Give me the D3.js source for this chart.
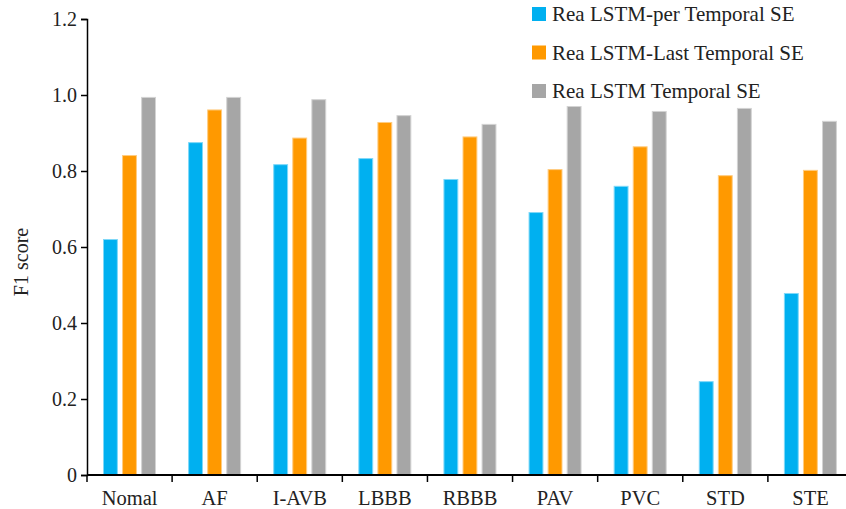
<!DOCTYPE html>
<html><head><meta charset="utf-8">
<script src="https://cdn.jsdelivr.net/npm/d3@7/dist/d3.min.js"></script>
<style>body{margin:0;background:#fff}svg{display:block}</style>
</head><body>
<script>
const categories = ["Nomal","AF","I-AVB","LBBB","RBBB","PAV","PVC","STD","STE"];
const seriesNames = ["Rea LSTM-per Temporal SE","Rea LSTM-Last Temporal SE","Rea LSTM Temporal SE"];
const perValues  = [0.621,0.876,0.818,0.834,0.779,0.692,0.761,0.247,0.479];
const lastValues = [0.842,0.962,0.888,0.929,0.891,0.805,0.865,0.789,0.803];
const fullValues = [0.995,0.995,0.989,0.947,0.924,0.971,0.958,0.966,0.932];
const yTicks = [0,0.2,0.4,0.6,0.8,1.0,1.2];
const colors = ["#00b0f0","#ff9900","#a6a6a6"];
const strokes = ["#7fd8f8","#ffcc80","#d3d3d3"];

const W=846,H=509;
const svg=d3.select("body").append("svg").attr("width",W).attr("height",H);
const font="'Liberation Serif','Times New Roman',serif";

const x=d3.scaleBand().domain(categories).range([87,853]);
const x1=d3.scaleBand().domain(seriesNames).range([16,69]).paddingInner(0.22);
const y=d3.scaleLinear().domain([0,1.2]).range([475,19]);

const data=categories.map((c,i)=>({cat:c,vals:[perValues[i],lastValues[i],fullValues[i]]}));

const g=svg.append("g");
data.forEach(d=>{
  d.vals.forEach((v,j)=>{
    g.append("rect")
      .attr("x",x(d.cat)+x1(seriesNames[j])+0.5)
      .attr("y",y(v)+0.5)
      .attr("width",x1.bandwidth()-1)
      .attr("height",y(0)-y(v)-0.5)
      .attr("fill",colors[j])
      .attr("stroke",strokes[j]).attr("stroke-width",1);
  });
});

// y axis
const ya=svg.append("g").attr("transform","translate(87,0)")
  .call(d3.axisLeft(y).tickValues(yTicks).tickSize(6).tickPadding(4)
    .tickFormat(d=>d===0?"0":d.toFixed(1)));
ya.select(".domain").attr("stroke","#000").attr("stroke-width",1.5);
ya.selectAll(".tick line").attr("stroke","#000").attr("stroke-width",1.5);
ya.selectAll("text").attr("font-family",font).attr("font-size",20).attr("fill","#222");

// x axis
const xa=svg.append("g").attr("transform","translate(0,475)")
  .call(d3.axisBottom(x).tickSize(0).tickPadding(15));
xa.select(".domain").remove();
xa.append("line").attr("x1",87).attr("x2",853).attr("stroke","#000").attr("stroke-width",2);
xa.selectAll(".bt").data(categories).enter().append("line")
  .attr("x1",d=>x(d)).attr("x2",d=>x(d)).attr("y1",0).attr("y2",7)
  .attr("stroke","#000").attr("stroke-width",1.5);
xa.selectAll(".tick text").attr("font-family",font).attr("font-size",20.5).attr("fill","#222");

// y label
svg.append("text").attr("transform","translate(28,262) rotate(-90)")
  .attr("text-anchor","middle").attr("font-family",font).attr("font-size",20).attr("fill","#222")
  .text("F1 score");

// legend
const lg=svg.append("g");
seriesNames.forEach((s,i)=>{
  const yy=14+i*38.5;
  lg.append("rect").attr("x",532).attr("y",yy-7).attr("width",14).attr("height",14).attr("fill",colors[i]);
  lg.append("text").attr("x",552).attr("y",yy+7).attr("font-family",font).attr("font-size",21)
    .attr("fill","#222").text(s);
});
</script>
</body></html>
